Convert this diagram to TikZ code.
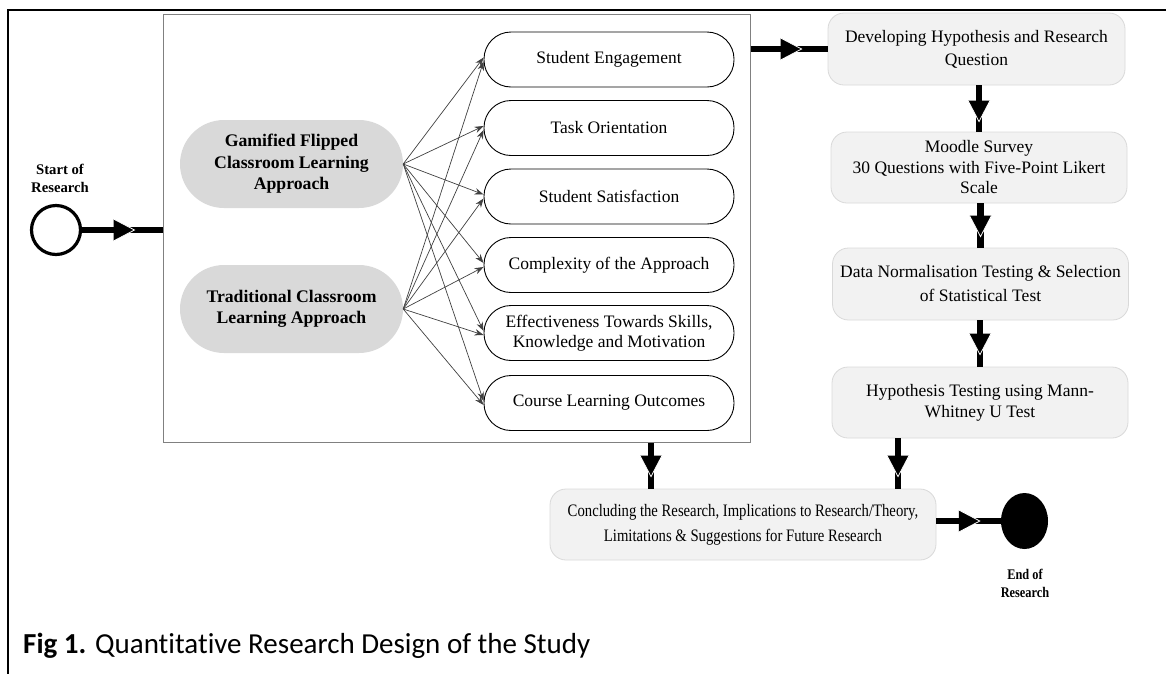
\documentclass[tikz,border=0pt]{standalone}
\usepackage{fontspec}
\setmainfont{Liberation Serif}
\newfontfamily\narrowserif[FakeStretch=0.84]{Liberation Serif}
\newfontfamily\capfont[Ligatures=NoCommon]{Carlito}
\usetikzlibrary{shapes.geometric,decorations.markings,arrows.meta,calc}

\definecolor{panelgray}{HTML}{808080}
\definecolor{ovalgray}{HTML}{D9D9D9}
\definecolor{boxfill}{HTML}{F2F2F2}
\definecolor{boxline}{HTML}{D9D9D9}
\definecolor{linkgray}{HTML}{404040}

\tikzset{
  pill/.style={draw=black, line width=0.9pt, fill=white, rounded corners=27pt,
    minimum width=250pt, minimum height=55pt, inner sep=0pt, align=center,
    font=\fontsize{17.5}{20}\selectfont},
  oval/.style={fill=ovalgray, rounded corners=44pt, minimum width=223pt,
    minimum height=88pt, inner sep=0pt, align=center,
    font=\bfseries\fontsize{17.7}{21.5}\selectfont},
  stepbox/.style={draw=boxline, line width=0.8pt, fill=boxfill, rounded corners=16pt,
    minimum width=296pt, minimum height=71pt, inner sep=0pt, align=center},
  lead/.style={font=\fontsize{17.5}{#1}\selectfont},
  link/.style={draw=linkgray, line width=0.7pt, -{Stealth[length=9pt,width=6.5pt]}},
  flow/.style={line width=6.6pt, postaction={decorate},
    decoration={markings, mark=at position -#1pt with {
      \fill[black] (0pt,0pt) -- (-21pt,11pt) -- (-21pt,-11pt) -- cycle;
      \draw[white, line width=0.8pt] (-21pt,11pt) -- (0pt,0pt) -- (-21pt,-11pt);}}},
  endlabel/.style={align=center, inner sep=0pt, font=\bfseries\fontsize{14.7}{18}\selectfont},
}

\begin{document}
\begin{tikzpicture}[x=1pt,y=-1pt]
\useasboundingbox (0,0) rectangle (1166,673);

% page frame (top and left rules)
\draw[line width=2.7pt] (8,680) -- (8,10) -- (1170,10);

% container of the two approaches and the six measured aspects
\node[draw=panelgray, line width=1pt, minimum width=587pt, minimum height=428pt, inner sep=0pt] (panel) at (456.5,228) {};

% approaches
\node[oval] (gam) at (291.5,164) {Gamified Flipped\\Classroom Learning\\Approach};
\node[oval] (trad) at (291.5,309) {Traditional Classroom\\Learning Approach};

% aspects
\node[pill] (p1) at (609,59.5) {Student Engagement};
\node[pill] (p2) at (609,128) {Task Orientation};
\node[pill] (p3) at (609,196.5) {Student Satisfaction};
\node[pill] (p4) at (609,265) {Complexity of the Approach};
\node[pill] (p5) at (609,333) {Effectiveness Towards Skills,\\Knowledge and Motivation};
\node[pill] (p6) at (609,403) {Course Learning Outcomes};

\foreach \p in {p1,p2,p3,p4,p5,p6} {
  \draw[link] (gam.east) -- ($(\p.west)+(0,-2)$);
  \draw[link] (trad.east) -- ($(\p.west)+(0,2)$);
}

% research steps
\node[stepbox, lead=23, minimum width=297pt, minimum height=72pt] (dev) at (976.5,49) {Developing Hypothesis and Research\\Question};
\node[stepbox, lead=20.5] (moodle) at (979,167.5) {Moodle Survey\\30 Questions with Five-Point Likert\\Scale};
\node[stepbox, lead=24, minimum height=72pt] (data) at (980.5,284) {Data Normalisation Testing \& Selection\\of Statistical Test};
\node[stepbox, lead=21] (hyp) at (980,402.5) {Hypothesis Testing using Mann-\\Whitney U Test};
\node[stepbox, minimum width=386pt, font=\narrowserif\fontsize{17.5}{25}\selectfont] (concl) at (743,524.5)
  {Concluding the Research, Implications to Research/Theory,\\Limitations \& Suggestions for Future Research};

% start and end states
\node[circle, draw=black, line width=3.2pt, fill=white, minimum size=49pt, inner sep=0pt] (start) at (56,230) {};
\node[endlabel] (startlbl) at (60,178) {Start of\\Research};
\node[ellipse, fill=black, minimum width=47pt, minimum height=56pt, inner sep=0pt] (finish) at (1024.5,521) {};
\node[endlabel, font=\narrowserif\bfseries\fontsize{14.7}{18}\selectfont] (endlbl) at (1025,583) {End of\\Research};

% drop points of the two arrows into the conclusion
\coordinate (c6) at (898,0);
\coordinate (c7) at (651,0);

% main flow
\draw[flow=28] (start.east) -- (start.east -| panel.west);
\draw[flow=26] (panel.east |- dev.west) -- (dev.west);
\draw[flow=10] (moodle.north |- dev.south) -- (moodle.north);
\draw[flow=11] (data.north |- moodle.south) -- (data.north);
\draw[flow=12] (hyp.north |- data.south) -- (hyp.north);
\draw[flow=12] (hyp.south -| c6) -- (concl.north -| c6);
\draw[flow=12] (panel.south -| c7) -- (concl.north -| c7);
\draw[flow=21] (concl.east |- finish.west) -- (finish.west);

% caption
\node[anchor=base west, inner sep=0pt, font=\capfont\fontsize{29}{34}\selectfont] (caption) at (23,653)
  {\textbf{Fig 1.} Quantitative Research Design of the Study};
\end{tikzpicture}
\end{document}
